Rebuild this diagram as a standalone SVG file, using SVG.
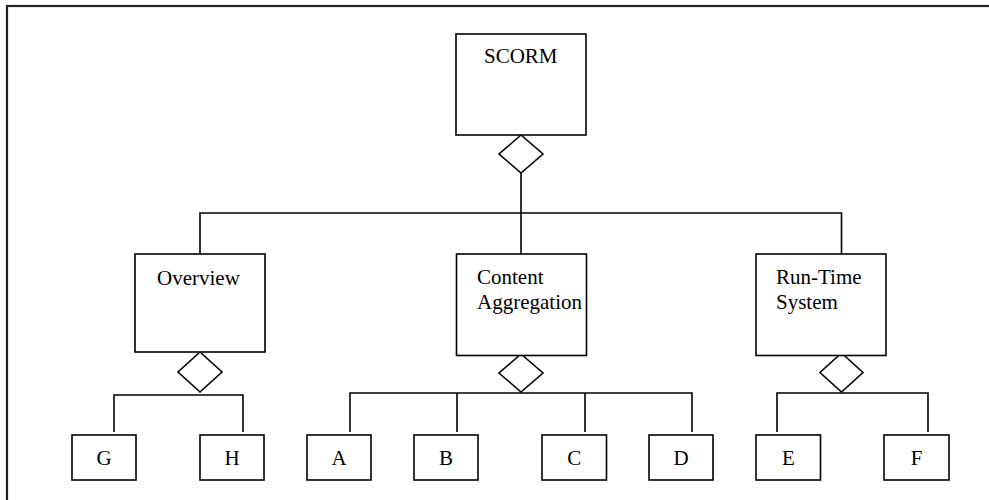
<svg xmlns="http://www.w3.org/2000/svg" width="989" height="500" viewBox="0 0 989 500">
  <style>
    .box { fill: #fff; stroke: #000; stroke-width: 1.6; }
    .dia { fill: #fff; stroke: #000; stroke-width: 1.6; }
    .line { fill: none; stroke: #000; stroke-width: 1.6; }
    .lbl { font-family: "Liberation Serif", "Times New Roman", serif; font-size: 21px; fill: #000; }
    .mid { text-anchor: middle; }
  </style>
  <rect x="0" y="0" width="989" height="500" fill="#fff"/>
  <!-- page frame -->
  <rect x="7" y="6" width="1100" height="600" fill="none" stroke="#222" stroke-width="2.2"/>

  <g id="connectors">
    <!-- SCORM to its three parts -->
    <polyline class="line" points="521,173 521,213"/>
    <polyline class="line" points="200,254 200,213 841.5,213 841.5,254"/>
    <polyline class="line" points="521,213 521,254"/>
    <!-- Overview to G, H -->
    <polyline class="line" points="114,432 114,395 243,395 243,432"/>
    <!-- Content Aggregation to A, B, C, D -->
    <polyline class="line" points="350,432 350,393 692,393 692,432"/>
    <polyline class="line" points="457,393 457,432"/>
    <polyline class="line" points="585,393 585,432"/>
    <!-- Run-Time System to E, F -->
    <polyline class="line" points="777,432 777,393 928,393 928,432"/>
    <!-- aggregation diamonds -->
    <polygon class="dia" points="521,135 543,154 521,173 499,154"/>
    <polygon class="dia" points="200,352 222,372 200,392 178,372"/>
    <polygon class="dia" points="521,354 543,373 521,392 499,373"/>
    <polygon class="dia" points="841.5,353 863,372.5 841.5,392 820,372.5"/>
  </g>

  <g id="scorm">
    <rect class="box" x="456" y="34" width="130" height="101"/>
    <text class="lbl" x="484" y="63">SCORM</text>
  </g>
  <g id="overview">
    <rect class="box" x="135" y="254" width="130" height="98"/>
    <text class="lbl" x="157" y="285">Overview</text>
  </g>
  <g id="content-aggregation">
    <rect class="box" x="456.5" y="254" width="130" height="101.5"/>
    <text class="lbl" x="477" y="284">Content</text>
    <text class="lbl" x="477" y="309">Aggregation</text>
  </g>
  <g id="run-time-system">
    <rect class="box" x="756" y="254" width="130" height="101.5"/>
    <text class="lbl" x="776" y="284">Run-Time</text>
    <text class="lbl" x="776" y="309">System</text>
  </g>

  <g id="g">
    <rect class="box" x="72" y="435" width="64" height="45"/>
    <text class="lbl mid" x="104" y="465">G</text>
  </g>
  <g id="h">
    <rect class="box" x="200" y="435" width="64" height="45"/>
    <text class="lbl mid" x="232" y="465">H</text>
  </g>
  <g id="a">
    <rect class="box" x="307" y="435" width="64" height="45"/>
    <text class="lbl mid" x="339" y="465">A</text>
  </g>
  <g id="b">
    <rect class="box" x="414" y="435" width="64" height="45"/>
    <text class="lbl mid" x="446" y="465">B</text>
  </g>
  <g id="c">
    <rect class="box" x="542" y="435" width="64.5" height="45"/>
    <text class="lbl mid" x="574.3" y="465">C</text>
  </g>
  <g id="d">
    <rect class="box" x="649" y="435" width="64" height="45"/>
    <text class="lbl mid" x="681" y="465">D</text>
  </g>
  <g id="e">
    <rect class="box" x="756" y="435" width="64.5" height="45"/>
    <text class="lbl mid" x="788.3" y="465">E</text>
  </g>
  <g id="f">
    <rect class="box" x="884" y="435" width="65" height="45"/>
    <text class="lbl mid" x="916.5" y="465">F</text>
  </g>
</svg>
